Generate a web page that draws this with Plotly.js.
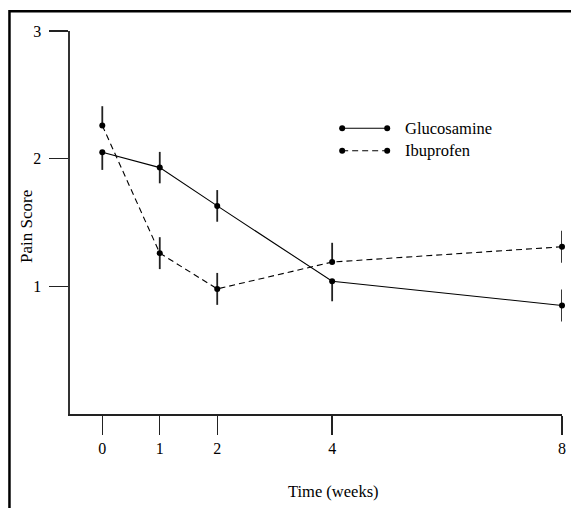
<!DOCTYPE html>
<html>
<head>
<meta charset="utf-8">
<script src="https://cdn.plot.ly/plotly-3.0.1.min.js"></script>
<style>html,body{margin:0;padding:0;background:#fff;}#chart{width:571px;height:508px;}</style>
</head>
<body>
<div id="chart"></div>
<script>
// ---- data ----
var weeks = [0, 1, 2, 4, 8];
var seriesNames = ['Glucosamine', 'Ibuprofen'];
var glucosamine = [2.05, 1.93, 1.63, 1.04, 0.85];
var glucosamineErrUp = [0, 0.123, 0.124, 0, 0.125];
var glucosamineErrDown = [0.138, 0.123, 0.124, 0.157, 0.125];
var ibuprofen = [2.26, 1.26, 0.98, 1.19, 1.31];
var ibuprofenErrUp = [0.151, 0.125, 0.125, 0.151, 0.125];
var ibuprofenErrDown = [0, 0.125, 0.125, 0, 0.125];
var xTickVals = [0, 1, 2, 4, 8];
var xTickText = ['0', '1', '2', '4', '8'];
var yTickVals = [1, 2, 3];
var yTickText = ['1', '2', '3'];
var xTitle = 'Time (weeks)';
var yTitle = 'Pain Score';

var FONT = 'Liberation Serif, Times New Roman, serif';

function errObj(up, down) {
  return {type: 'data', symmetric: false, array: up, arrayminus: down,
          width: 0, thickness: 1.8, color: '#222'};
}

var traces = [
  {x: weeks, y: glucosamine, name: seriesNames[0], type: 'scatter', mode: 'lines+markers',
   line: {color: '#000', width: 1.1, dash: 'solid'},
   marker: {color: '#000', size: 6},
   error_y: errObj(glucosamineErrUp, glucosamineErrDown), cliponaxis: false},
  {x: weeks, y: ibuprofen, name: seriesNames[1], type: 'scatter', mode: 'lines+markers',
   line: {color: '#000', width: 1.1, dash: '6px,4px'},
   marker: {color: '#000', size: 6},
   error_y: errObj(ibuprofenErrUp, ibuprofenErrDown), cliponaxis: false}
];

// plot area in pixels: x 70..561.7, y 31..414
var PW = 491.7, PH = 383;
function px(x) { return (x - 70) / PW; }
function py(y) { return (414 - y) / PH; }

// custom legend (line with end dots + label), in paper coordinates
var legX0 = px(342), legX1 = px(387), legTextX = px(403);
var legY = [py(128.3), py(150.7)];
var dotW = 6 / PW, dotH = 6 / PH;
var shapes = [
  // outer frame (left and top edges)
  {type: 'path', xref: 'paper', yref: 'paper',
   path: 'M ' + px(9.5) + ' ' + py(530) + ' L ' + px(9.5) + ' ' + py(11.3) + ' L ' + px(590) + ' ' + py(11.3),
   line: {color: '#000', width: 2.5}}
];
var annotations = [];
for (var i = 0; i < seriesNames.length; i++) {
  shapes.push({type: 'line', xref: 'paper', yref: 'paper', x0: legX0, x1: legX1, y0: legY[i], y1: legY[i],
               line: {color: '#000', width: 1.1, dash: i === 0 ? 'solid' : '6px,4px'}});
  [legX0, legX1].forEach(function (cx) {
    shapes.push({type: 'circle', xref: 'paper', yref: 'paper',
                 x0: cx - dotW / 2, x1: cx + dotW / 2, y0: legY[i] - dotH / 2, y1: legY[i] + dotH / 2,
                 fillcolor: '#000', line: {color: '#000', width: 0}});
  });
  annotations.push({xref: 'paper', yref: 'paper', x: legTextX, y: legY[i], xanchor: 'left', yanchor: 'middle',
                    text: seriesNames[i], showarrow: false, font: {family: FONT, size: 16.5, color: '#000'}});
}
annotations.push({xref: 'paper', yref: 'paper', x: px(333), y: py(492),
                  xanchor: 'center', yanchor: 'middle', text: xTitle, showarrow: false,
                  font: {family: FONT, size: 16.5, color: '#000'}});
annotations.push({xref: 'paper', yref: 'paper', x: px(26), y: py(226), textangle: -90,
                  xanchor: 'center', yanchor: 'middle', text: yTitle, showarrow: false,
                  font: {family: FONT, size: 17, color: '#000'}});

var layout = {
  width: 571, height: 508,
  margin: {l: 70, r: 9.3, t: 31, b: 94, pad: 0},
  paper_bgcolor: '#fff', plot_bgcolor: '#fff',
  showlegend: false,
  font: {family: FONT, size: 16, color: '#000'},
  xaxis: {range: [-0.562, 8], tickvals: xTickVals, ticktext: xTickText,
          showgrid: false, zeroline: false, showline: true, linecolor: '#222', linewidth: 1.6,
          ticks: 'outside', ticklen: 19, tickwidth: 1.3, tickcolor: '#222',
          tickfont: {family: FONT, size: 16, color: '#000'}, ticklabelstandoff: 0},
  yaxis: {range: [0, 3], tickvals: yTickVals, ticktext: yTickText,
          showgrid: false, zeroline: false, showline: true, linecolor: '#333', linewidth: 1.6,
          ticks: 'outside', ticklen: 19, tickwidth: 1.3, tickcolor: '#222',
          tickfont: {family: FONT, size: 16, color: '#000'}, ticklabelstandoff: 5},
  shapes: shapes,
  annotations: annotations
};

Plotly.newPlot('chart', traces, layout, {displayModeBar: false, staticPlot: true});
</script>
</body>
</html>
